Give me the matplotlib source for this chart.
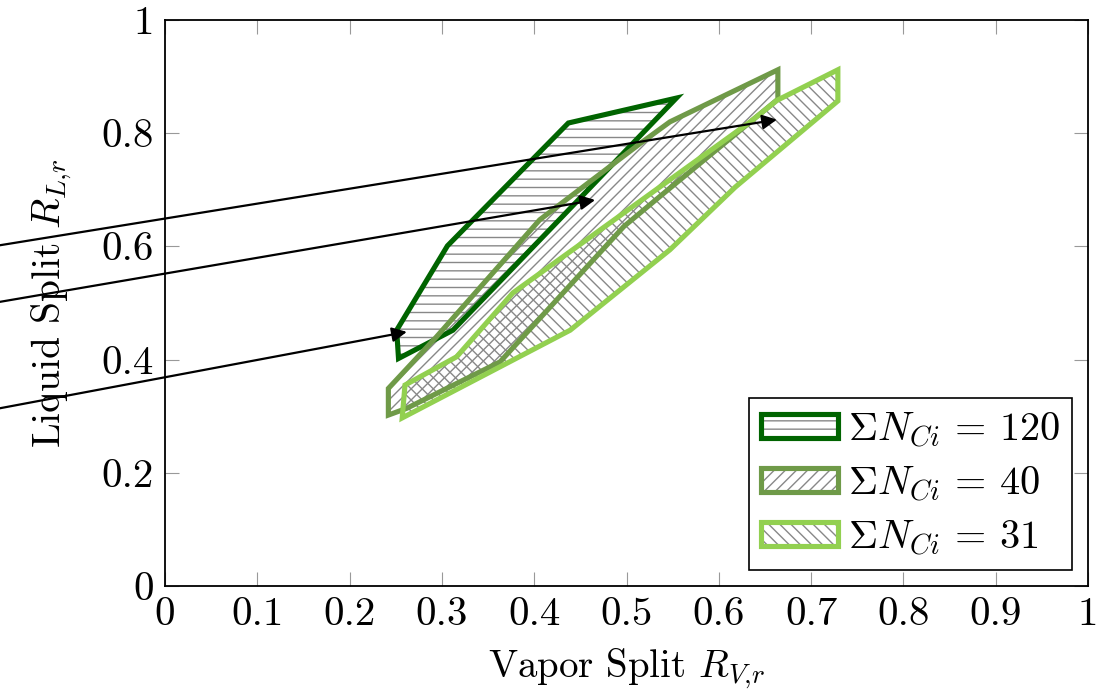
import matplotlib
matplotlib.use("Agg")
import matplotlib.pyplot as plt
from matplotlib.patches import Polygon

plt.rcParams['font.family'] = 'serif'
plt.rcParams['font.serif'] = ['cmr10', 'DejaVu Serif']
plt.rcParams['mathtext.fontset'] = 'cm'
plt.rcParams['axes.formatter.use_mathtext'] = True
plt.rcParams['hatch.linewidth'] = 1.0
plt.rcParams['hatch.color'] = '#888888'

# regiones factibles (Rv, Rl) para cada numero total de etapas
rv_120 = [0.251, 0.253, 0.312, 0.554, 0.437, 0.306]
rl_120 = [0.452, 0.402, 0.452, 0.862, 0.818, 0.601]

rv_40 = [0.242, 0.294, 0.406, 0.515, 0.547, 0.664, 0.664, 0.536, 0.497, 0.363, 0.262, 0.242]
rl_40 = [0.349, 0.440, 0.647, 0.782, 0.820, 0.912, 0.860, 0.688, 0.635, 0.396, 0.314, 0.302]

rv_31 = [0.260, 0.316, 0.377, 0.634, 0.663, 0.729, 0.729, 0.618, 0.547, 0.439, 0.257]
rl_31 = [0.355, 0.405, 0.518, 0.820, 0.858, 0.912, 0.857, 0.705, 0.594, 0.452, 0.297]

etiquetas = [r'$\Sigma N_{Ci}\,=\,120$', r'$\Sigma N_{Ci}\,=\,40$', r'$\Sigma N_{Ci}\,=\,31$']
cores = ['#006400', '#6f9a48', '#92d050']
hachuras = ['--', '///', '\\\\\\']

# flechas: (inicio, punta)
flecha_ini = [(-0.179, 0.602), (-0.179, 0.502), (-0.179, 0.314)]
flecha_fim = [(0.663, 0.824), (0.466, 0.682), (0.262, 0.449)]

ticks = [0, 0.1, 0.2, 0.3, 0.4, 0.5, 0.6, 0.7, 0.8, 0.9, 1]
ticks_y = [0, 0.2, 0.4, 0.6, 0.8, 1]

fig = plt.figure(figsize=(11.13, 6.96), dpi=100)
ax = fig.add_axes([165/1113, 1-586/696, (1088-165)/1113, (586-20)/696])

regioes = [(rv_120, rl_120), (rv_40, rl_40), (rv_31, rl_31)]
ordem = [1, 2, 0]  # ordem de desenho
handles = [None, None, None]
for i in ordem:
    xs, ys = regioes[i]
    pts = list(zip(xs, ys))
    h = Polygon(pts, closed=True, fill=False, hatch=hachuras[i],
                edgecolor='#888888', lw=0, zorder=2)
    b = Polygon(pts, closed=True, fill=False, edgecolor=cores[i],
                lw=3.7, joinstyle='miter', zorder=3 + i * 0.1)
    ax.add_patch(h)
    ax.add_patch(b)
    handles[i] = (h, b)

for p0, p1 in zip(flecha_ini, flecha_fim):
    ax.annotate('', xy=p1, xytext=p0, annotation_clip=False,
                arrowprops=dict(arrowstyle='-|>', color='black', lw=1.6,
                                mutation_scale=22, shrinkA=0, shrinkB=0),
                zorder=5)

ax.set_xlim(0, 1)
ax.set_ylim(0, 1)
ax.set_xticks(ticks)
ax.set_xticklabels(['0' if t == 0 else '1' if t == 1 else f'{t:.1f}' for t in ticks])
ax.set_yticks(ticks_y)
ax.set_yticklabels(['0' if t == 0 else '1' if t == 1 else f'{t:.1f}' for t in ticks_y])
ax.tick_params(direction='in', length=10, width=0.8, color='#999999',
               top=True, right=True, labelsize=29.5, pad=8)
for s in ax.spines.values():
    s.set_linewidth(1.3)

ax.set_xlabel(r'Vapor Split $R_{V{,}r}$', fontsize=28, labelpad=10)
ax.set_ylabel(r'Liquid Split $R_{L{,}r}$', fontsize=28.5, labelpad=20)

leg = ax.legend(handles, etiquetas, loc='lower right', fontsize=29,
                fancybox=False, edgecolor='black', framealpha=1,
                handlelength=1.9, handleheight=0.55, handletextpad=0.25,
                borderpad=0.3, labelspacing=0.35, borderaxespad=0.4)
leg.get_frame().set_linewidth(1.2)

fig.savefig('out.png', dpi=100)
